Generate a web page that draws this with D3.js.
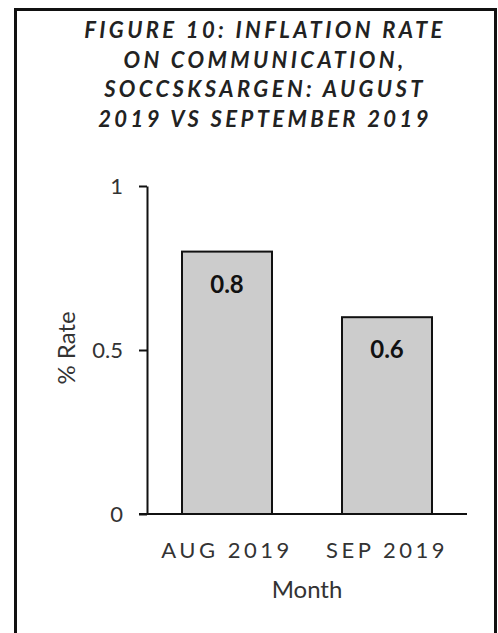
<!DOCTYPE html>
<html>
<head>
<meta charset="utf-8">
<script src="https://cdn.jsdelivr.net/npm/d3@7"></script>
<style>
  html, body { margin: 0; padding: 0; background: #fff; }
  svg { display: block; }
</style>
</head>
<body>
<div id="chart"></div>
<script>
const width = 498, height = 633;
const font = 'Lato, "Open Sans", sans-serif';

const months = ['AUG 2019', 'SEP 2019'];
const rates = [0.8, 0.6];
const yTicks = [0, 0.5, 1];
const titleLines = [
  'FIGURE 10: INFLATION RATE',
  'ON COMMUNICATION,',
  'SOCCSKSARGEN: AUGUST',
  '2019 VS SEPTEMBER 2019'
];

const data = months.map((m, i) => ({ month: m, rate: rates[i] }));

const svg = d3.select('#chart')
  .append('svg')
  .attr('width', width)
  .attr('height', height);

/* Outer frame (bottom edge runs past the picture) */
svg.append('rect')
  .attr('x', 15.5).attr('y', 9.5)
  .attr('width', 480).attr('height', 640)
  .attr('fill', 'none').attr('stroke', '#111').attr('stroke-width', 3);

/* Title */
svg.append('text')
  .attr('text-anchor', 'middle')
  .attr('font-family', font).attr('font-size', '22px')
  .attr('font-weight', 'bold').attr('font-style', 'italic')
  .attr('letter-spacing', '3.4px').attr('fill', '#222')
  .selectAll('tspan')
  .data(titleLines).join('tspan')
  .attr('x', 265)
  .attr('y', (d, i) => 38 + i * 29.5)
  .text(d => d);

const xScale = d3.scaleBand()
  .domain(months)
  .range([147, 467])
  .paddingInner(0.4375)
  .paddingOuter(0.21875);

const yScale = d3.scaleLinear()
  .domain([0, 1])
  .range([514, 186]);

/* Bars */
svg.selectAll('rect.bar')
  .data(data).join('rect')
  .attr('class', 'bar')
  .attr('x', d => xScale(d.month))
  .attr('y', d => yScale(d.rate))
  .attr('width', xScale.bandwidth())
  .attr('height', d => yScale(0) - yScale(d.rate))
  .attr('fill', '#cccccc')
  .attr('stroke', '#111').attr('stroke-width', 2);

/* Value labels */
svg.selectAll('text.val')
  .data(data).join('text')
  .attr('class', 'val')
  .attr('x', d => xScale(d.month) + xScale.bandwidth() / 2)
  .attr('y', d => yScale(d.rate) + 41)
  .attr('text-anchor', 'middle')
  .attr('font-family', font).attr('font-size', '24px').attr('font-weight', 'bold')
  .attr('fill', '#111')
  .text(d => d3.format('.1f')(d.rate));

/* Left axis */
svg.append('g')
  .attr('transform', 'translate(147,0)')
  .call(d3.axisLeft(yScale).tickValues(yTicks).tickFormat(d => d3.format('')(d)).tickSize(8).tickSizeOuter(0).tickPadding(16))
  .call(ax => {
    ax.select('.domain').attr('stroke', '#111').attr('stroke-width', 2);
    ax.selectAll('.tick line').attr('stroke', '#111').attr('stroke-width', 2);
  })
  .selectAll('text')
    .attr('font-family', font).attr('font-size', '22px').attr('fill', '#333');

/* Bottom axis line */
svg.append('g')
  .attr('transform', `translate(0,${yScale(0)})`)
  .call(d3.axisBottom(xScale).tickSize(0).tickPadding(28))
  .call(ax => {
    ax.select('.domain').attr('d', 'M139,0H467').attr('stroke', '#111').attr('stroke-width', 2);
  })
  .selectAll('text')
    .attr('font-family', font).attr('font-size', '22px').attr('fill', '#333')
    .attr('letter-spacing', '3.5px');

/* Axis titles */
svg.append('text')
  .attr('x', 307).attr('y', 598)
  .attr('text-anchor', 'middle')
  .attr('font-family', font).attr('font-size', '24px').attr('fill', '#333')
  .text('Month');

svg.append('text')
  .attr('transform', 'rotate(-90)')
  .attr('x', -348).attr('y', 75)
  .attr('text-anchor', 'middle')
  .attr('font-family', font).attr('font-size', '24px').attr('fill', '#333')
  .text('% Rate');
</script>
</body>
</html>
